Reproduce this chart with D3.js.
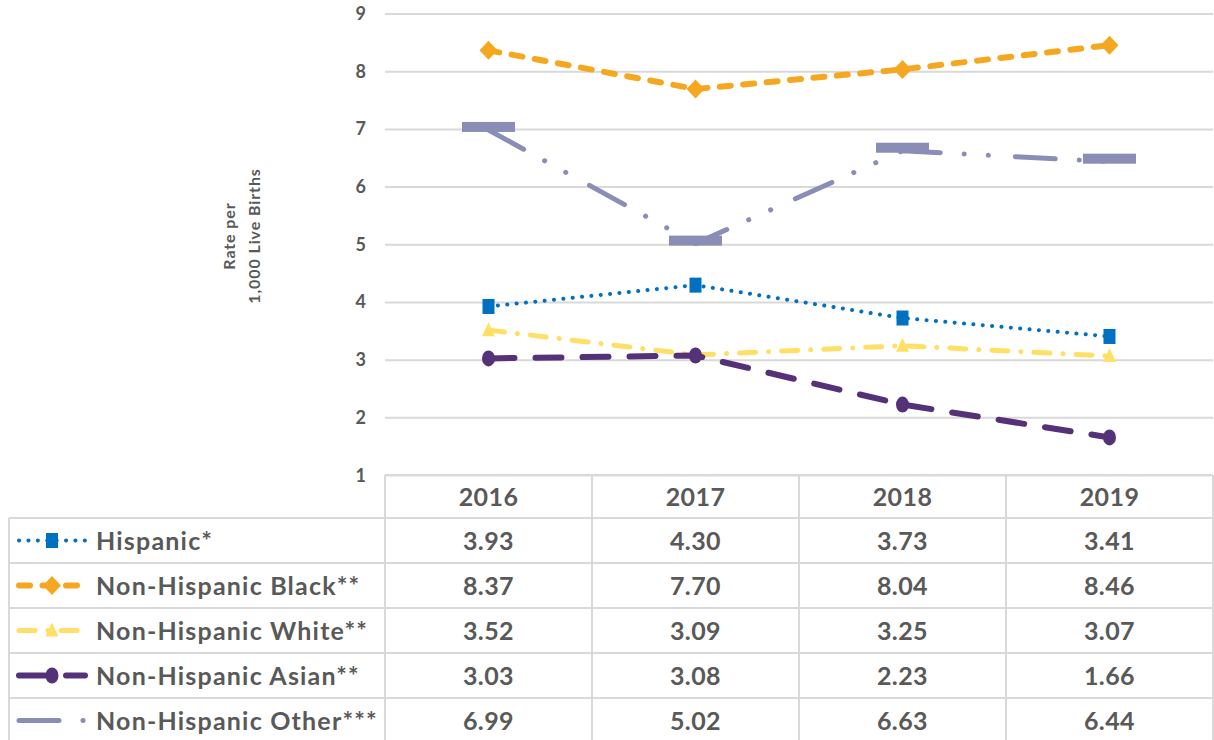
<!DOCTYPE html>
<html>
<head>
<meta charset="utf-8">
<script src="https://cdn.jsdelivr.net/npm/d3@7"></script>
<style>
  html, body { margin: 0; padding: 0; background: #ffffff; }
  svg { display: block; }
  text { font-family: Lato, "Open Sans", sans-serif; font-weight: bold; fill: #595959; }
</style>
</head>
<body>
<svg id="chart" width="1214" height="740"></svg>
<script>
// ---- data ----
const years = ["2016", "2017", "2018", "2019"];
const seriesNames = ["Hispanic*", "Non-Hispanic Black**", "Non-Hispanic White**", "Non-Hispanic Asian**", "Non-Hispanic Other***"];
const hispanic = [3.93, 4.30, 3.73, 3.41];
const black = [8.37, 7.70, 8.04, 8.46];
const white = [3.52, 3.09, 3.25, 3.07];
const asian = [3.03, 3.08, 2.23, 1.66];
const other = [6.99, 5.02, 6.63, 6.44];
const yTicks = [1, 2, 3, 4, 5, 6, 7, 8, 9];
const yTitle = ["Rate per", "1,000 Live Births"];

(function () {
// ---- styles ----
const styles = [
  { color: "#0070C0", width: 4, dash: "0.1 9.3", marker: "square" },
  { color: "#F5A81F", width: 6, dash: "11 12.5", marker: "diamond" },
  { color: "#FFDF66", width: 5, dash: "16 13 0.1 13", marker: "triangle" },
  { color: "#553278", width: 6, dash: "26 21", marker: "circle" },
  { color: "#8A8DB5", width: 5, dash: "40 24 0.1 24 0.1 27", marker: "dash" }
];
const seriesValues = [hispanic, black, white, asian, other];

const svg = d3.select("#chart");
const plotLeft = 385, plotRight = 1213, plotTop = 14, plotBottom = 475.5;
const x = d3.scaleBand().domain(years).range([plotLeft, plotRight]);
const y = d3.scaleLinear().domain([1, 9]).range([plotBottom, plotTop]);
const cx = d => x(d) + x.bandwidth() / 2;
const grid = "#D9D9D9";

// gridlines
svg.append("g").selectAll("line").data(yTicks).join("line")
  .attr("x1", plotLeft).attr("x2", plotRight)
  .attr("y1", d => y(d)).attr("y2", d => y(d))
  .attr("stroke", grid).attr("stroke-width", 2);

// y tick labels
svg.append("g").selectAll("text").data(yTicks).join("text")
  .attr("x", 366).attr("y", d => y(d) + 6)
  .attr("text-anchor", "end").attr("font-size", 18)
  .text(d => d);

// y title
const yt = svg.append("text")
  .attr("transform", "translate(235,236) rotate(-90)")
  .attr("text-anchor", "middle").attr("font-size", 16).attr("letter-spacing", 0.9);
yt.selectAll("tspan").data(yTitle).join("tspan")
  .attr("x", 0).attr("dy", (d, i) => i === 0 ? 0 : 25)
  .text(d => d);

// marker drawing helper
function drawMarker(g, type, color, px, py) {
  if (type === "square") {
    g.append("rect").attr("x", px - 6).attr("y", py - 7.5).attr("width", 12).attr("height", 15).attr("fill", color);
  } else if (type === "diamond") {
    g.append("path").attr("d", `M${px},${py - 9.5} L${px + 9},${py} L${px},${py + 9.5} L${px - 9},${py} Z`).attr("fill", color);
  } else if (type === "triangle") {
    g.append("path").attr("d", `M${px},${py - 8} L${px + 6.5},${py + 6} L${px - 6.5},${py + 6} Z`).attr("fill", color);
  } else if (type === "circle") {
    g.append("ellipse").attr("cx", px).attr("cy", py).attr("rx", 6.5).attr("ry", 8).attr("fill", color);
  } else if (type === "dash") {
    g.append("rect").attr("x", px - 26.5).attr("y", py - 8).attr("width", 53).attr("height", 10).attr("fill", color);
  }
}

// lines & markers
const line = d3.line().x((d, i) => cx(years[i])).y(d => y(d));
seriesValues.forEach((vals, si) => {
  const st = styles[si];
  const g = svg.append("g");
  g.append("path").attr("d", line(vals))
    .attr("fill", "none").attr("stroke", st.color).attr("stroke-width", st.width)
    .attr("stroke-dasharray", st.dash).attr("stroke-linecap", "round").attr("stroke-linejoin", "round");
  vals.forEach((v, i) => drawMarker(g, st.marker, st.color, cx(years[i]), y(v)));
});

// ---- data table ----
const tableTop = 475, headerBottom = 518, rowH = 45, tableLeft = 9;
const rowsY = seriesNames.map((d, i) => headerBottom + i * rowH);
const tg = svg.append("g");
tg.append("line").attr("x1", plotLeft).attr("x2", plotRight).attr("y1", tableTop).attr("y2", tableTop).attr("stroke", grid).attr("stroke-width", 2);
rowsY.concat([headerBottom + seriesNames.length * rowH]).forEach(ry => {
  tg.append("line").attr("x1", tableLeft).attr("x2", plotRight).attr("y1", ry).attr("y2", ry).attr("stroke", grid).attr("stroke-width", 2);
});
years.forEach(yr => {
  tg.append("line").attr("x1", x(yr)).attr("x2", x(yr)).attr("y1", tableTop).attr("y2", 745).attr("stroke", grid).attr("stroke-width", 2);
});
tg.append("line").attr("x1", plotRight).attr("x2", plotRight).attr("y1", tableTop).attr("y2", 745).attr("stroke", grid).attr("stroke-width", 2);
tg.append("line").attr("x1", tableLeft).attr("x2", tableLeft).attr("y1", headerBottom).attr("y2", 745).attr("stroke", grid).attr("stroke-width", 2);

tg.selectAll("text.yr").data(years).join("text").attr("class", "yr")
  .attr("x", d => cx(d)).attr("y", (tableTop + headerBottom) / 2 + 9)
  .attr("text-anchor", "middle").attr("font-size", 25).attr("letter-spacing", 0.4).text(d => d);

seriesNames.forEach((name, si) => {
  const rc = rowsY[si] + rowH / 2;
  const st = styles[si];
  const lg = tg.append("g");
  lg.append("line").attr("x1", 19).attr("x2", 85).attr("y1", rc).attr("y2", rc)
    .attr("stroke", st.color).attr("stroke-width", st.width)
    .attr("stroke-dasharray", st.dash).attr("stroke-linecap", "round");
  if (st.marker !== "dash") drawMarker(lg, st.marker, st.color, 52, rc);
  tg.append("text").attr("x", 96).attr("y", rc + 9).attr("font-size", 25).attr("letter-spacing", 1.2).text(name);
  seriesValues[si].forEach((v, i) => {
    tg.append("text").attr("x", cx(years[i])).attr("y", rc + 9)
      .attr("text-anchor", "middle").attr("font-size", 25).attr("letter-spacing", 0.4).text(v.toFixed(2));
  });
});
})();
</script>
</body>
</html>
